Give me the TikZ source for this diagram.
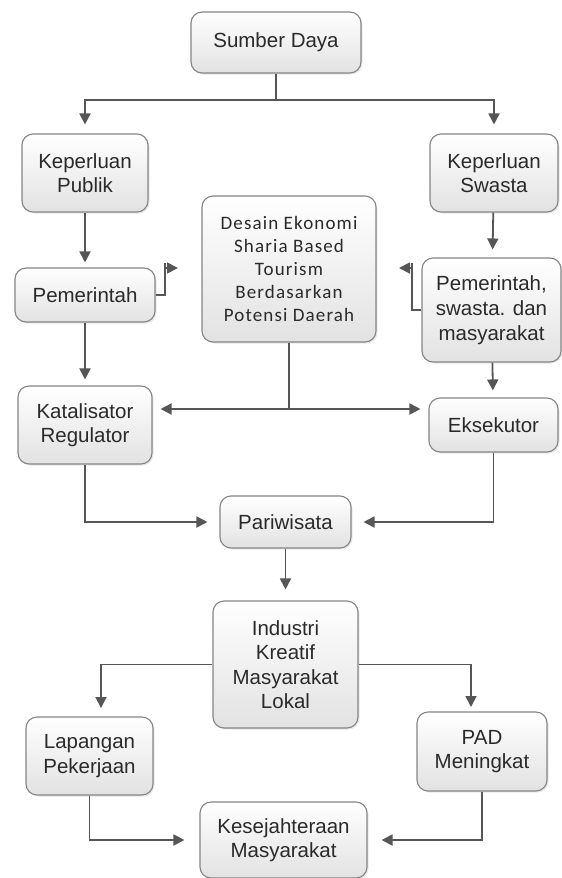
\documentclass[tikz,border=0pt]{standalone}
\usepackage{fontspec}
\setmainfont{Liberation Sans}
\newfontfamily\boxfont[LetterSpace=6]{Carlito}
\usetikzlibrary{arrows.meta,shadows}

\definecolor{edgegray}{HTML}{858585}
\definecolor{linegray}{HTML}{565656}
\definecolor{fillbottom}{HTML}{E2E2E2}
\definecolor{txt}{HTML}{2A2A2A}

\tikzset{
  box/.style={draw=edgegray, line width=1.1pt, rounded corners=11pt,
    top color=white, bottom color=fillbottom, text=txt,
    drop shadow={opacity=0.18, shadow xshift=1.5pt, shadow yshift=-1.5pt},
    inner sep=0pt, align=center,
    font=\fontsize{20.5}{24.5}\selectfont},
  conn/.style={draw=linegray, line width=1.8pt},
  arr/.style={conn, -{Triangle[length=11pt,width=11pt]}, shorten >=8pt},
}

\begin{document}
\begin{tikzpicture}[x=1pt, y=-1pt]
  \useasboundingbox (0,0) rectangle (562,878);
  \fill[white] (0,0) rectangle (562,878);

  % boxes
  \node[box, minimum width=170pt, minimum height=61pt]  (sumber) at (276,42.5) {Sumber Daya};
  \node[box, minimum width=126pt, minimum height=78pt]  (kpub)   at (85,173)   {Keperluan\\Publik};
  \node[box, minimum width=128pt, minimum height=78pt]  (kswa)   at (494,173)  {Keperluan\\Swasta};
  \node[box, minimum width=174pt, minimum height=146pt,
        font=\boxfont\fontsize{19}{23}\selectfont]        (desain) at (289,269)
        {Desain Ekonomi\\Sharia Based\\Tourism\\Berdasarkan\\Potensi Daerah};
  \node[box, minimum width=140pt, minimum height=54pt]  (pem)    at (85,295)   {Pemerintah};
  \node[box, minimum width=139pt, minimum height=104pt,
        font=\fontsize{20.5}{25}\selectfont]              (pemswa) at (491.5,310)
        {Pemerintah,\\swasta. dan\\masyarakat};
  \node[box, minimum width=134pt, minimum height=78pt]  (kat)    at (85,425)   {Katalisator\\Regulator};
  \node[box, minimum width=129pt, minimum height=54pt]  (eks)    at (493.5,425){Eksekutor};
  \node[box, minimum width=131pt, minimum height=52pt]  (pari)   at (285.5,522){Pariwisata};
  \node[box, minimum width=145pt, minimum height=127pt] (ind)    at (285.5,664.5)
        {Industri\\Kreatif\\Masyarakat\\Lokal};
  \node[box, minimum width=127pt, minimum height=78pt]  (lap)    at (89.5,756) {Lapangan\\Pekerjaan};
  \node[box, minimum width=130pt, minimum height=79pt]  (pad)    at (482,751.5){PAD\\Meningkat};
  \node[box, minimum width=167pt, minimum height=76pt]  (kes)    at (283.5,840){Kesejahteraan\\Masyarakat};

  % junctions and free ends
  \coordinate (split)    at (276,100);
  \coordinate (lflagtop) at (165,263);
  \coordinate (lflag)    at (165,268);
  \coordinate (lflagtip) at (178,268);
  \coordinate (rflagtop) at (412,263);
  \coordinate (rflag)    at (412,268);
  \coordinate (rflagtip) at (399,268);
  \coordinate (dsplit)   at (289,409);
  \coordinate (lapin)    at (101,717);
  \coordinate (padin)    at (471,712);

  % top split
  \draw[conn] (sumber.south) -- (split);
  \draw[arr, shorten >=9pt] (split) -| (kpub.north);
  \draw[arr, shorten >=9pt] (split) -| (kswa.north);

  % left column
  \draw[arr, shorten >=5pt] (kpub) -- (pem);
  \draw[arr, shorten >=6pt] (pem) -- (kat);
  \draw[conn] (pem.east) -| (lflagtop);
  \draw[arr, shorten >=0pt] (lflag) -- (lflagtip);

  % right column
  \draw[arr] (kswa) -- (pemswa);
  \draw[arr, shorten >=7pt] (pemswa) -- (eks);
  \draw[conn] (pemswa.west) -| (rflagtop);
  \draw[arr, shorten >=0pt] (rflag) -- (rflagtip);

  % central design box
  \draw[conn] (desain.south) -- (dsplit);
  \draw[arr] (dsplit) -- (kat.east |- dsplit);
  \draw[arr] (dsplit) -- (eks.west |- dsplit);

  % into tourism
  \draw[arr, shorten >=12pt] (kat.south) |- (pari.west);
  \draw[arr, shorten >=12pt] (eks.south) |- (pari.east);
  \draw[arr, shorten >=11pt] (pari) -- (ind);

  % outcomes
  \draw[arr, shorten >=9pt] (ind.west) -| (lapin);
  \draw[arr, shorten >=5pt] (ind.east) -| (padin);
  \draw[arr, shorten >=15pt] (lap.south) |- (kes.west);
  \draw[arr, shorten >=14pt] (pad.south) |- (kes.east);
\end{tikzpicture}
\end{document}
